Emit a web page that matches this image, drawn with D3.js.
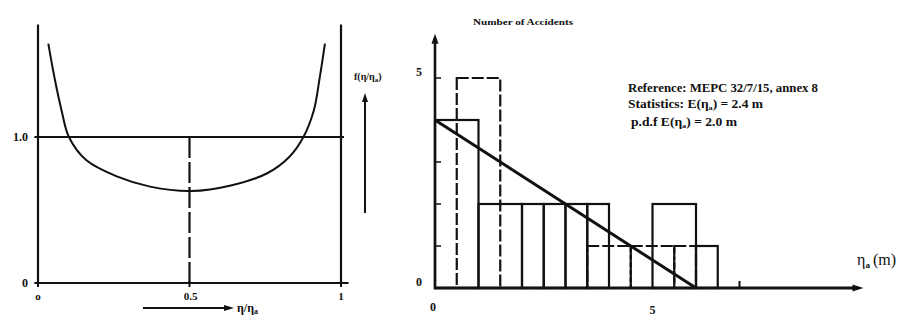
<!DOCTYPE html>
<html>
<head>
<meta charset="utf-8">
<script src="https://cdn.jsdelivr.net/npm/d3@7"></script>
<style>
  html, body { margin: 0; padding: 0; background: #fff; }
  svg { display: block; }
  text { font-family: "Liberation Serif", "DejaVu Serif", serif; fill: #111; }
  .bold { font-weight: bold; }
</style>
</head>
<body>
<div id="chart"></div>
<script>
/* global d3 */

// left panel: density curve f(eta/eta_a)
const curveEta = [0.034, 0.056, 0.078, 0.102, 0.16, 0.26, 0.37, 0.505, 0.64, 0.755, 0.83, 0.876, 0.91, 0.93, 0.947];
const curveF = [1.64, 1.39, 1.18, 1.0, 0.84, 0.73, 0.66, 0.63, 0.67, 0.75, 0.865, 1.0, 1.18, 1.41, 1.64];
const leftXTicks = [0, 0.5, 1];
const leftXLabels = ['o', '0.5', '1'];
const leftYTicks = [0, 1.0];
const leftYLabels = ['0', '1.0'];

// right panel: histograms [from, to, count]
const solidBins = [[0, 1, 4], [1, 2, 2], [2, 2.5, 2], [2.5, 3, 2], [3, 3.5, 2], [3.5, 4, 2], [5, 6, 2], [6, 6.5, 1]];
const dashedBins = [[0.5, 1.5, 5], [3.5, 4.5, 1], [4.5, 5.5, 1], [5.5, 6, 1]];
const trendLine = [[0, 4], [6, 0]];
const rightYTicks = [1, 2, 3, 4, 5];
const rightYLabels = [0, 5];
const rightXLabels = [0, 5];
const rightXTicks = [7];
const notes = ['Reference: MEPC 32/7/15, annex 8', 'Statistics: E(η_a) = 2.4 m', 'p.d.f E(η_a) = 2.0 m'];

const W = 915;
const H = 318;

const svg = d3.select('#chart').append('svg')
  .attr('width', W)
  .attr('height', H);

// arrowhead helper (tip at x,y pointing in direction dx,dy)
function arrowHead(g, x, y, dx, dy, len, half) {
  const px = -dy, py = dx;
  const bx = x - dx * len, by = y - dy * len;
  g.append('path')
    .attr('d', `M${x},${y}L${bx + px * half},${by + py * half}L${bx - px * half},${by - py * half}Z`)
    .attr('fill', '#111');
}

// ---------------- left panel ----------------
const xL = d3.scaleLinear().domain([0, 1]).range([38, 341]);
const yL = d3.scaleLinear().domain([0, 1]).range([283, 137]);

const $left = svg.append('g').attr('class', 'left');

// frame verticals
$left.selectAll('line.frame')
  .data([0, 1])
  .join('line')
  .attr('class', 'frame')
  .attr('x1', d => xL(d)).attr('x2', d => xL(d))
  .attr('y1', yL(1.77)).attr('y2', yL(0))
  .attr('stroke', '#111').attr('stroke-width', 2.2);

// bottom axis
$left.append('line')
  .attr('x1', xL(-0.012)).attr('x2', xL(1.025))
  .attr('y1', yL(0)).attr('y2', yL(0))
  .attr('stroke', '#111').attr('stroke-width', 2.2);

// reference line at 1.0
$left.append('line')
  .attr('x1', xL(-0.012)).attr('x2', xL(1.01))
  .attr('y1', yL(1)).attr('y2', yL(1))
  .attr('stroke', '#111').attr('stroke-width', 2);

// dashed mid line at 0.5
$left.append('line')
  .attr('x1', xL(0.5)).attr('x2', xL(0.5))
  .attr('y1', yL(1)).attr('y2', yL(0))
  .attr('stroke', '#111').attr('stroke-width', 2.2)
  .attr('stroke-dasharray', '21,4');

// x ticks
$left.selectAll('line.xt')
  .data(leftXTicks)
  .join('line')
  .attr('class', 'xt')
  .attr('x1', d => xL(d)).attr('x2', d => xL(d))
  .attr('y1', yL(0) - 2).attr('y2', yL(0) + 4)
  .attr('stroke', '#111').attr('stroke-width', 2);

$left.selectAll('text.xl')
  .data(leftXTicks)
  .join('text')
  .attr('class', 'xl bold')
  .attr('x', d => xL(d) + (d === 0.5 ? 1 : 0))
  .attr('y', yL(0) + 17)
  .attr('text-anchor', 'middle')
  .attr('font-size', 11)
  .text((d, i) => leftXLabels[i]);

$left.selectAll('text.yl')
  .data(leftYTicks)
  .join('text')
  .attr('class', 'yl bold')
  .attr('x', xL(0) - 10)
  .attr('y', d => yL(d) + 4)
  .attr('text-anchor', 'end')
  .attr('font-size', 12)
  .text((d, i) => leftYLabels[i]);

// density curve
const curveLine = d3.line()
  .x(d => xL(d[0]))
  .y(d => yL(d[1]))
  .curve(d3.curveCatmullRom.alpha(0.5));

$left.append('path')
  .datum(d3.zip(curveEta, curveF))
  .attr('d', curveLine)
  .attr('fill', 'none')
  .attr('stroke', '#111')
  .attr('stroke-width', 2);

// axis names with arrows
const $fArrow = $left.append('g');
$fArrow.append('line')
  .attr('x1', 365).attr('x2', 365)
  .attr('y1', 213).attr('y2', 100)
  .attr('stroke', '#111').attr('stroke-width', 2);
arrowHead($fArrow, 365, 93, 0, -1, 9, 3);

const $fLabel = $left.append('text')
  .attr('x', 354).attr('y', 80)
  .attr('font-size', 10)
  .attr('class', 'bold');
$fLabel.append('tspan').text('f(η/η');
$fLabel.append('tspan').attr('font-size', 7).attr('dy', 2).text('a');
$fLabel.append('tspan').attr('dy', -2).text(')');

const $xArrow = $left.append('g');
$xArrow.append('line')
  .attr('x1', 143).attr('x2', 226)
  .attr('y1', 308).attr('y2', 308)
  .attr('stroke', '#111').attr('stroke-width', 1.8);
arrowHead($xArrow, 234, 308, 1, 0, 10, 3);

const $xLabel = $left.append('text')
  .attr('x', 237).attr('y', 312)
  .attr('font-size', 12)
  .attr('class', 'bold');
$xLabel.append('tspan').text('η/η');
$xLabel.append('tspan').attr('font-size', 8).attr('dy', 2).text('a');

// ---------------- right panel ----------------
const xR = d3.scaleLinear().domain([0, 5]).range([435, 652.5]);
const yR = d3.scaleLinear().domain([0, 5]).range([288, 78]);

const $right = svg.append('g').attr('class', 'right');

$right.append('text')
  .attr('x', 473).attr('y', 25)
  .attr('font-size', 9)
  .attr('class', 'bold')
  .attr('textLength', 100)
  .attr('lengthAdjust', 'spacingAndGlyphs')
  .text('Number of Accidents');

// solid histogram
$right.append('g')
  .selectAll('rect')
  .data(solidBins)
  .join('rect')
  .attr('x', d => xR(d[0]))
  .attr('y', d => yR(d[2]))
  .attr('width', d => xR(d[1]) - xR(d[0]))
  .attr('height', d => yR(0) - yR(d[2]))
  .attr('fill', 'none')
  .attr('stroke', '#111')
  .attr('stroke-width', 2.2);

// dashed histogram
$right.append('g')
  .selectAll('rect')
  .data(dashedBins)
  .join('rect')
  .attr('x', d => xR(d[0]))
  .attr('y', d => yR(d[2]))
  .attr('width', d => xR(d[1]) - xR(d[0]))
  .attr('height', d => yR(0) - yR(d[2]))
  .attr('fill', 'none')
  .attr('stroke', '#111')
  .attr('stroke-width', 2.2)
  .attr('stroke-dasharray', '12,3');

// trend line
$right.append('path')
  .datum(trendLine)
  .attr('d', d3.line().x(d => xR(d[0])).y(d => yR(d[1])))
  .attr('fill', 'none')
  .attr('stroke', '#111')
  .attr('stroke-width', 3);

// axes
const $axes = $right.append('g');
$axes.append('line')
  .attr('x1', xR(0)).attr('x2', xR(0))
  .attr('y1', yR(0) + 1).attr('y2', yR(5.95))
  .attr('stroke', '#111').attr('stroke-width', 2.6);
arrowHead($axes, xR(0), yR(6.03) - 1, 0, -1, 10, 3.5);

$axes.append('line')
  .attr('x1', xR(0) - 1).attr('x2', xR(9.7))
  .attr('y1', yR(0)).attr('y2', yR(0))
  .attr('stroke', '#111').attr('stroke-width', 3);
arrowHead($axes, xR(9.85), yR(0), 1, 0, 11, 3.5);

$axes.selectAll('line.yt')
  .data(rightYTicks)
  .join('line')
  .attr('class', 'yt')
  .attr('x1', xR(0)).attr('x2', xR(0) + 6)
  .attr('y1', d => yR(d)).attr('y2', d => yR(d))
  .attr('stroke', '#111').attr('stroke-width', 1.5);

$axes.selectAll('line.xt')
  .data(rightXTicks)
  .join('line')
  .attr('class', 'xt')
  .attr('x1', d => xR(d)).attr('x2', d => xR(d))
  .attr('y1', yR(0)).attr('y2', yR(0) - 7)
  .attr('stroke', '#111').attr('stroke-width', 2);

$axes.selectAll('text.yl')
  .data(rightYLabels)
  .join('text')
  .attr('class', 'yl bold')
  .attr('x', xR(0) - 16)
  .attr('y', d => yR(d) - 2)
  .attr('text-anchor', 'middle')
  .attr('font-size', 12)
  .text(d => d);

$axes.selectAll('text.xl')
  .data(rightXLabels)
  .join('text')
  .attr('class', 'xl bold')
  .attr('x', d => xR(d) - (d === 0 ? 2 : 0))
  .attr('y', d => yR(0) + (d === 0 ? 23 : 26))
  .attr('text-anchor', 'middle')
  .attr('font-size', 12)
  .text(d => d);

// eta_a (m) label
const $etaLabel = $right.append('text')
  .attr('x', 857).attr('y', 265)
  .attr('font-size', 16);
$etaLabel.append('tspan').text('η');
$etaLabel.append('tspan').attr('font-size', 9).attr('dy', 3).attr('class', 'bold').text('a');
$etaLabel.append('tspan').attr('dy', -3).attr('dx', 3).text('(m)');

// reference notes, η_a written with a subscript
const noteX = [628, 628, 631];
const noteY = [92, 108, 126];
const noteLen = [190, 135, 106];
notes.forEach((s, i) => {
  const t = $right.append('text')
    .attr('x', noteX[i]).attr('y', noteY[i])
    .attr('class', 'bold')
    .attr('font-size', 11.5)
    .attr('textLength', noteLen[i])
    .attr('lengthAdjust', 'spacingAndGlyphs');
  const parts = s.split('_a');
  if (parts.length === 1) {
    t.text(s);
  } else {
    t.append('tspan').text(parts[0]);
    t.append('tspan').attr('font-size', 7).attr('dy', 2).text('a');
    t.append('tspan').attr('dy', -2).text(parts[1]);
  }
});
</script>
</body>
</html>
